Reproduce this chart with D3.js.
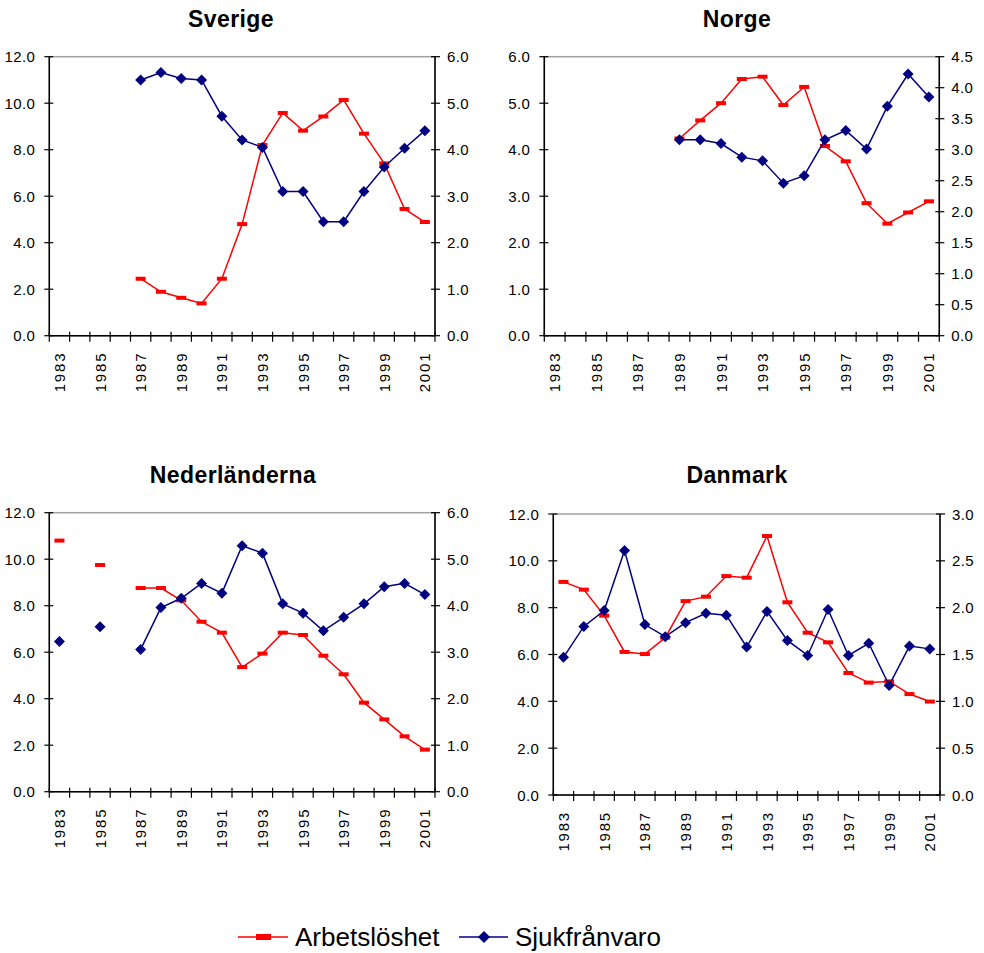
<!DOCTYPE html>
<html>
<head>
<meta charset="utf-8">
<script src="https://cdn.jsdelivr.net/npm/d3@7"></script>
<style>
  body { margin: 0; background: #fff; }
  svg { display: block; font-family: "Liberation Sans", Arial, sans-serif; }
</style>
</head>
<body>
<svg id="chart" width="984" height="953"></svg>
<script>
// years on the category axis, labels every other year
var years = d3.range(1983, 2002);
var yearLabels = years.filter(function (y) { return (y - 1983) % 2 === 0; });

// Arbetslöshet (left axis) and Sjukfrånvaro (right axis), null = no data
var sverigeArb = [null, null, null, null, 2.45, 1.89, 1.63, 1.39, 2.45, 4.80, 8.20, 9.58, 8.82, 9.43, 10.14, 8.69, 7.41, 5.45, 4.89];
var sverigeSjuk = [null, null, null, null, 5.50, 5.66, 5.53, 5.50, 4.72, 4.21, 4.05, 3.10, 3.10, 2.45, 2.45, 3.10, 3.63, 4.03, 4.41];

var norgeArb = [null, null, null, null, null, null, 4.24, 4.63, 5.00, 5.52, 5.57, 4.96, 5.35, 4.08, 3.75, 2.85, 2.41, 2.65, 2.89];
var norgeSjuk = [null, null, null, null, null, null, 3.16, 3.16, 3.10, 2.88, 2.82, 2.46, 2.58, 3.16, 3.31, 3.01, 3.70, 4.22, 3.85];

var nedArb = [10.80, null, 9.75, null, 8.76, 8.76, 8.23, 7.31, 6.84, 5.36, 5.94, 6.84, 6.74, 5.85, 5.05, 3.83, 3.11, 2.38, 1.81];
var nedSjuk = [3.23, null, 3.55, null, 3.06, 3.96, 4.16, 4.48, 4.27, 5.29, 5.13, 4.04, 3.84, 3.46, 3.75, 4.04, 4.41, 4.48, 4.24];

var danArb = [9.10, 8.77, 7.66, 6.11, 6.02, 6.72, 8.28, 8.47, 9.35, 9.28, 11.06, 8.23, 6.93, 6.52, 5.21, 4.80, 4.85, 4.31, 3.99];
var danSjuk = [1.47, 1.80, 1.97, 2.61, 1.82, 1.69, 1.84, 1.94, 1.92, 1.58, 1.96, 1.65, 1.49, 1.98, 1.49, 1.62, 1.17, 1.59, 1.56];

// axis ticks
var leftTicks12 = [0, 2, 4, 6, 8, 10, 12];
var leftTicks6 = [0, 1, 2, 3, 4, 5, 6];
var rightTicks6 = [0, 1, 2, 3, 4, 5, 6];
var rightTicks45 = [0, 0.5, 1, 1.5, 2, 2.5, 3, 3.5, 4, 4.5];
var rightTicks3 = [0, 0.5, 1, 1.5, 2, 2.5, 3];

var RED = '#ff0000';
var BLUE = '#000080';

var svg = d3.select('#chart');

var panels = [
  { title: 'Sverige', tx: 231, ty: 27, x0: 49.3, x1: 435, y0: 56.7, y1: 335.7,
    lt: leftTicks12, rt: rightTicks6, arb: sverigeArb, sjuk: sverigeSjuk },
  { title: 'Norge', tx: 737, ty: 27, x0: 544.3, x1: 939.3, y0: 56.7, y1: 335.7,
    lt: leftTicks6, rt: rightTicks45, arb: norgeArb, sjuk: norgeSjuk },
  { title: 'Nederländerna', tx: 233, ty: 483, x0: 49.3, x1: 435, y0: 512.7, y1: 791.7,
    lt: leftTicks12, rt: rightTicks6, arb: nedArb, sjuk: nedSjuk },
  { title: 'Danmark', tx: 737, ty: 483, x0: 553.3, x1: 940, y0: 514, y1: 795,
    lt: leftTicks12, rt: rightTicks3, arb: danArb, sjuk: danSjuk }
];

var diamond = function (r) { return 'M0,' + (-r) + 'L' + r + ',0L0,' + r + 'L' + (-r) + ',0Z'; };

panels.forEach(function (p) {
  var g = svg.append('g');
  var x = d3.scaleBand().domain(years).range([p.x0, p.x1]);
  var yl = d3.scaleLinear().domain([0, d3.max(p.lt)]).range([p.y1, p.y0]);
  var yr = d3.scaleLinear().domain([0, d3.max(p.rt)]).range([p.y1, p.y0]);
  var cx = function (i) { return x(years[i]) + x.bandwidth() / 2; };

  g.append('text')
    .attr('x', p.tx).attr('y', p.ty)
    .attr('text-anchor', 'middle')
    .style('font-weight', 'bold').style('font-size', '23px')
    .style('letter-spacing', '0.4px')
    .text(p.title);

  // plot area border
  g.append('rect')
    .attr('x', p.x0).attr('y', p.y0)
    .attr('width', p.x1 - p.x0).attr('height', p.y1 - p.y0)
    .attr('fill', 'none').attr('stroke', '#a0a0a0').attr('stroke-width', 1.5);

  // left axis
  g.append('line').attr('x1', p.x0).attr('x2', p.x0).attr('y1', p.y0).attr('y2', p.y1)
    .attr('stroke', '#000').attr('stroke-width', 1.5);
  g.selectAll('line.lt').data(p.lt).enter().append('line')
    .attr('x1', p.x0 - 5).attr('x2', p.x0 + 4)
    .attr('y1', function (d) { return yl(d); }).attr('y2', function (d) { return yl(d); })
    .attr('stroke', '#000').attr('stroke-width', 1.2);
  g.selectAll('text.lt').data(p.lt).enter().append('text')
    .attr('x', p.x0 - 14).attr('y', function (d) { return yl(d) + 5.5; })
    .attr('text-anchor', 'end')
    .style('font-size', '15px').style('letter-spacing', '0.4px')
    .text(function (d) { return d.toFixed(1); });

  // right axis
  g.append('line').attr('x1', p.x1).attr('x2', p.x1).attr('y1', p.y0).attr('y2', p.y1)
    .attr('stroke', '#000').attr('stroke-width', 1.5);
  g.selectAll('line.rt').data(p.rt).enter().append('line')
    .attr('x1', p.x1 - 4).attr('x2', p.x1 + 5)
    .attr('y1', function (d) { return yr(d); }).attr('y2', function (d) { return yr(d); })
    .attr('stroke', '#000').attr('stroke-width', 1.2);
  g.selectAll('text.rt').data(p.rt).enter().append('text')
    .attr('x', p.x1 + 12).attr('y', function (d) { return yr(d) + 5.5; })
    .style('font-size', '15px').style('letter-spacing', '0.4px')
    .text(function (d) { return d.toFixed(1); });

  // category axis
  g.append('line').attr('x1', p.x0).attr('x2', p.x1).attr('y1', p.y1).attr('y2', p.y1)
    .attr('stroke', '#000').attr('stroke-width', 1.5);
  var edges = years.map(function (y) { return x(y); }).concat([p.x1]);
  g.selectAll('line.xt').data(edges).enter().append('line')
    .attr('x1', function (d) { return d; }).attr('x2', function (d) { return d; })
    .attr('y1', p.y1 - 4).attr('y2', p.y1 + 6)
    .attr('stroke', '#000').attr('stroke-width', 1.2);
  g.selectAll('text.xt').data(yearLabels).enter().append('text')
    .attr('transform', function (d) {
      return 'translate(' + (x(d) + x.bandwidth() / 2 + 5.5) + ',' + (p.y1 + 16) + ') rotate(-90)';
    })
    .attr('text-anchor', 'end')
    .style('font-size', '15px').style('letter-spacing', '1.8px')
    .text(function (d) { return d; });

  // Arbetslöshet
  var lineL = d3.line()
    .defined(function (d) { return d != null; })
    .x(function (d, i) { return cx(i); })
    .y(function (d) { return yl(d); });
  g.append('path').datum(p.arb).attr('d', lineL)
    .attr('fill', 'none').attr('stroke', RED).attr('stroke-width', 1.5);
  g.selectAll('rect.arb').data(p.arb.map(function (d, i) { return { v: d, i: i }; })
      .filter(function (d) { return d.v != null; }))
    .enter().append('rect')
    .attr('x', function (d) { return cx(d.i) - 5; })
    .attr('y', function (d) { return yl(d.v) - 2; })
    .attr('width', 10).attr('height', 4)
    .attr('fill', RED);

  // Sjukfrånvaro
  var lineR = d3.line()
    .defined(function (d) { return d != null; })
    .x(function (d, i) { return cx(i); })
    .y(function (d) { return yr(d); });
  g.append('path').datum(p.sjuk).attr('d', lineR)
    .attr('fill', 'none').attr('stroke', BLUE).attr('stroke-width', 1.5);
  g.selectAll('path.sjuk').data(p.sjuk.map(function (d, i) { return { v: d, i: i }; })
      .filter(function (d) { return d.v != null; }))
    .enter().append('path')
    .attr('transform', function (d) { return 'translate(' + cx(d.i) + ',' + yr(d.v) + ')'; })
    .attr('d', diamond(5.5))
    .attr('fill', BLUE);
});

// legend
var leg = svg.append('g');
leg.append('line').attr('x1', 238).attr('x2', 288).attr('y1', 937).attr('y2', 937)
  .attr('stroke', RED).attr('stroke-width', 1.5);
leg.append('rect').attr('x', 256).attr('y', 934).attr('width', 15).attr('height', 6).attr('fill', RED);
leg.append('text').attr('x', 295).attr('y', 946).style('font-size', '26px').text('Arbetslöshet');
leg.append('line').attr('x1', 459).attr('x2', 508).attr('y1', 937).attr('y2', 937)
  .attr('stroke', BLUE).attr('stroke-width', 1.5);
leg.append('path').attr('transform', 'translate(484,937)').attr('d', diamond(6)).attr('fill', BLUE);
leg.append('text').attr('x', 515).attr('y', 946).style('font-size', '26px').text('Sjukfrånvaro');
</script>
</body>
</html>
